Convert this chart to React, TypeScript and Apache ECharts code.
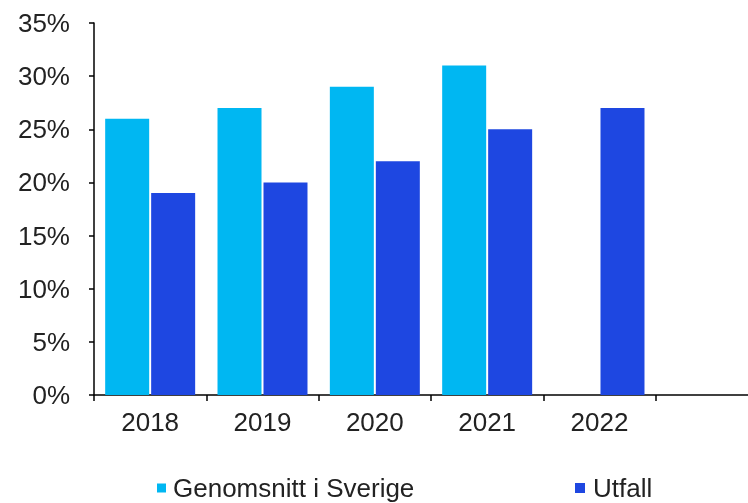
import React, { useEffect, useRef } from "react";
import * as echarts from "echarts";

const categories = ["2018", "2019", "2020", "2021", "2022", ""];
const sverigeValues = [26, 27, 29, 31, null, null];
const utfallValues = [19, 20, 22, 25, 27, null];
const yTicks = [0, 5, 10, 15, 20, 25, 30, 35];

const LIGHT = "#00B7F2";
const DARK = "#1E47E1";
const FONT = "'Liberation Sans', Arial, sans-serif";
const TEXT = "#222222";

export default function App() {
  const ref = useRef<HTMLDivElement>(null);
  useEffect(() => {
    if (!ref.current) return;
    const chart = echarts.init(ref.current, null, { renderer: "svg" });
    chart.setOption({
      animation: false,
      grid: { left: 94, top: 23, bottom: 108, right: 0, containLabel: false },
      legend: [
        {
          data: ["Genomsnitt i Sverige"],
          left: 152,
          top: 470,
          icon: "rect",
          itemWidth: 9,
          itemHeight: 9,
          itemGap: 0,
          textStyle: { fontFamily: FONT, fontSize: 26, color: TEXT, padding: [0, 0, 0, 2] },
        },
        {
          data: ["Utfall"],
          left: 570,
          top: 470,
          icon: "rect",
          itemWidth: 10,
          itemHeight: 10,
          itemGap: 0,
          textStyle: { fontFamily: FONT, fontSize: 26, color: TEXT, padding: [0, 0, 0, 3] },
        },
      ],
      xAxis: {
        type: "category",
        data: categories,
        axisLine: { lineStyle: { color: "#000", width: 1.5 } },
        axisTick: { show: true, length: 6, lineStyle: { color: "#000", width: 1.5 } },
        axisLabel: { fontFamily: FONT, fontSize: 26, color: TEXT, margin: 14 },
      },
      yAxis: {
        type: "value",
        min: yTicks[0],
        max: yTicks[yTicks.length - 1],
        interval: 5,
        splitLine: { show: false },
        axisLine: { show: true, lineStyle: { color: "#000", width: 1.5 } },
        axisTick: { show: true, length: 5, lineStyle: { color: "#000", width: 1.5 } },
        axisLabel: {
          fontFamily: FONT,
          fontSize: 26,
          color: TEXT,
          margin: 24,
          formatter: (v: number) => `${v}%`,
        },
      },
      series: [
        {
          name: "Genomsnitt i Sverige",
          type: "bar",
          data: sverigeValues,
          barWidth: 44,
          barGap: "4.5%",
          itemStyle: { color: LIGHT },
        },
        {
          name: "Utfall",
          type: "bar",
          data: utfallValues,
          barWidth: 44,
          itemStyle: { color: DARK },
        },
      ],
    });
    return () => chart.dispose();
  }, []);
  return (
    <div
      style={{
        position: "fixed",
        left: 0,
        top: 0,
        width: 748,
        height: 503,
        overflow: "hidden",
      }}
    >
      <div ref={ref} style={{ width: 768, height: 503 }} />
    </div>
  );
}
